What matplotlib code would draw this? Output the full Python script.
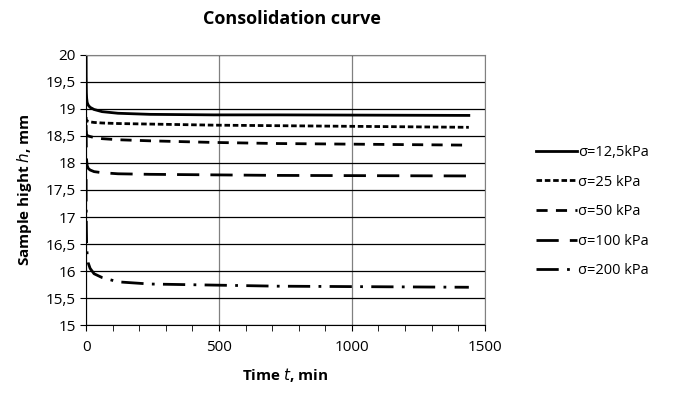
import matplotlib.pyplot as plt
from matplotlib.ticker import MultipleLocator

plt.rcParams['font.family'] = ['Open Sans', 'DejaVu Sans']

t = [0, 0.25, 1, 2, 4, 8, 15, 30, 60, 120, 240, 480, 720, 1440]
h_125 = [20.0, 19.6, 19.3, 19.2, 19.12, 19.07, 19.03, 18.99, 18.95, 18.92, 18.9, 18.89, 18.89, 18.88]
h_25 = [18.85, 18.82, 18.8, 18.79, 18.78, 18.77, 18.76, 18.75, 18.74, 18.73, 18.72, 18.7, 18.69, 18.66]
h_50 = [18.6, 18.57, 18.54, 18.52, 18.51, 18.5, 18.49, 18.47, 18.45, 18.43, 18.41, 18.38, 18.36, 18.33]
h_100 = [18.7, 18.5, 18.2, 18.05, 17.95, 17.9, 17.87, 17.84, 17.82, 17.8, 17.79, 17.78, 17.77, 17.76]
h_200 = [17.7, 17.2, 16.8, 16.5, 16.3, 16.15, 16.05, 15.95, 15.88, 15.8, 15.76, 15.74, 15.72, 15.7]

labels = ['σ=12,5kPa', 'σ=25 kPa', 'σ=50 kPa', 'σ=100 kPa', 'σ=200 kPa']
styles = ['-', (0, (2, 1)), (0, (4, 3)), (0, (8, 4)), (0, (8, 3, 1, 3))]

fig = plt.figure(figsize=(6.78, 3.95), dpi=100)
ax = fig.add_axes([0.127, 0.177, 0.588, 0.684])

for h, lab, ls in zip([h_125, h_25, h_50, h_100, h_200], labels, styles):
    ax.plot(t, h, color='black', linestyle=ls, linewidth=2, label=lab)

ax.set_xlim(0, 1500)
ax.set_ylim(15, 20)
ax.xaxis.set_major_locator(MultipleLocator(500))
ax.xaxis.set_minor_locator(MultipleLocator(100))
ax.set_yticks([15 + 0.5 * i for i in range(11)])
ax.set_yticklabels([f'{15 + 0.5 * i:g}'.replace('.', ',') for i in range(11)])

ax.grid(True, axis='y', color='black', linewidth=0.9)
ax.grid(True, axis='x', color='#808080', linewidth=0.9)
for s in ax.spines.values():
    s.set_color('#808080')
ax.spines['left'].set_color('black')
ax.spines['bottom'].set_color('black')
ax.tick_params(which='both', direction='out', color='black', labelsize=11, length=4)
ax.tick_params(axis='x', which='minor', length=4)
ax.tick_params(axis='x', pad=7)

ax.set_xlabel('Time $\\bf{\\it{t}}$, min', fontsize=11, fontweight='bold', labelpad=8)
ax.set_ylabel('Sample hight $\\bf{\\it{h}}$, mm', fontsize=11, fontweight='bold', labelpad=8)
fig.suptitle('Consolidation curve', x=0.43, y=0.975, fontsize=13, fontweight='bold')

ax.legend(loc='center left', bbox_to_anchor=(1.095, 0.42), frameon=False, fontsize=10.5,
          handlelength=2.8, handletextpad=0.1, labelspacing=1.0)

fig.savefig('out.png', dpi=100)
